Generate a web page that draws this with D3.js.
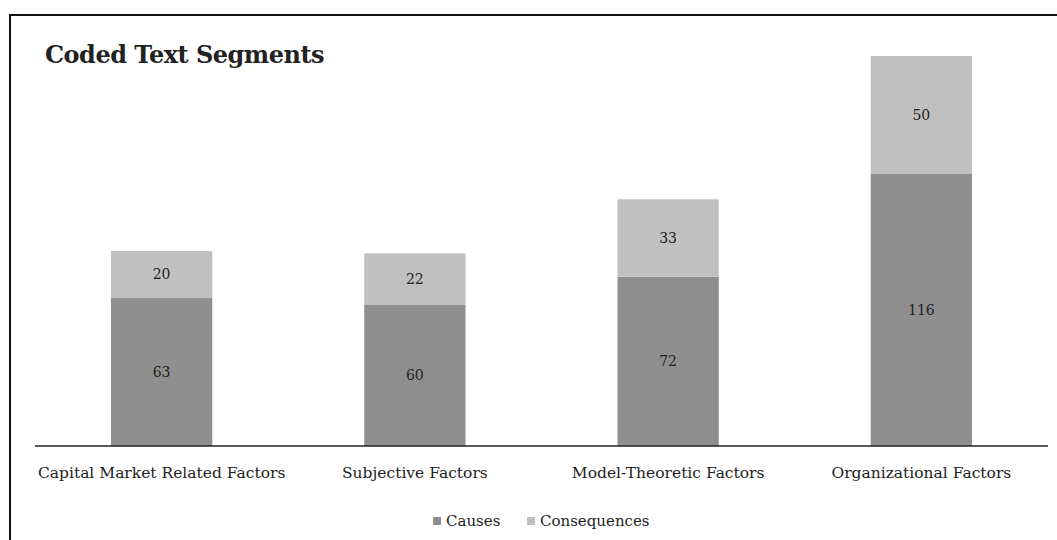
<!DOCTYPE html>
<html>
<head>
<meta charset="utf-8">
<script src="https://cdn.jsdelivr.net/npm/d3@7"></script>
<style>
  html, body { margin: 0; padding: 0; background: #fff; }
  svg { display: block; }
  text { font-family: "DejaVu Serif", "Liberation Serif", serif; fill: #222; }
</style>
</head>
<body>
<svg id="chart" width="1057" height="540"></svg>
<script>
// Coded text segments per factor group, split into causes and consequences
const categories = [
  "Capital Market Related Factors",
  "Subjective Factors",
  "Model-Theoretic Factors",
  "Organizational Factors"
];
const causes = [63, 60, 72, 116];
const consequences = [20, 22, 33, 50];
const seriesNames = ["Causes", "Consequences"];
const seriesColors = ["#8f8f8f", "#c0c0c0"];

const svg = d3.select("#chart");
const W = 1057, H = 540;

// outer frame (open to the right and bottom edges)
svg.append("rect")
  .attr("x", 10).attr("y", 15)
  .attr("width", W + 20).attr("height", H + 20)
  .attr("fill", "none").attr("stroke", "#111").attr("stroke-width", 2);

const plot = { left: 35, right: 1048, top: 56, bottom: 446 };

const rows = categories.map((c, i) => ({ cat: c, Causes: causes[i], Consequences: consequences[i] }));
const stacked = d3.stack().keys(seriesNames)(rows);

const x = d3.scaleBand()
  .domain(categories)
  .range([plot.left, plot.right])
  .paddingInner(0.6)
  .paddingOuter(0.3);

const yMax = d3.max(rows, d => d.Causes + d.Consequences);
const y = d3.scaleLinear().domain([0, yMax]).range([plot.bottom, plot.top]);

// stacked bars
const layers = svg.append("g").selectAll("g")
  .data(stacked).join("g")
  .attr("fill", (d, i) => seriesColors[i]);

layers.selectAll("rect")
  .data(d => d).join("rect")
  .attr("x", d => x(d.data.cat))
  .attr("width", x.bandwidth())
  .attr("y", d => y(d[1]))
  .attr("height", d => y(d[0]) - y(d[1]));

// value labels centred in each segment
layers.selectAll("text")
  .data(d => d).join("text")
  .attr("x", d => x(d.data.cat) + x.bandwidth() / 2)
  .attr("y", d => (y(d[0]) + y(d[1])) / 2)
  .attr("dy", "0.35em")
  .attr("text-anchor", "middle")
  .attr("font-size", 14)
  .text(d => d[1] - d[0]);

// category axis
const xAxis = svg.append("g")
  .attr("transform", `translate(0,${plot.bottom})`)
  .call(d3.axisBottom(x).tickSize(0).tickPadding(21));
xAxis.select(".domain").attr("stroke", "#222").attr("stroke-width", 1.5)
  .attr("d", `M${plot.left},0H${plot.right}`);
xAxis.selectAll(".tick text")
  .attr("font-size", 15.5)
  .attr("font-family", "\"DejaVu Serif\", serif")
  .attr("fill", "#222");

// title
svg.append("text")
  .attr("x", 45).attr("y", 63)
  .attr("font-size", 24)
  .attr("letter-spacing", -0.5)
  .attr("font-weight", "bold")
  .attr("fill", "#111")
  .text("Coded Text Segments");

// legend
const legend = svg.append("g").attr("transform", "translate(433,521)");
const legendX = [0, 94];
seriesNames.forEach((name, i) => {
  const g = legend.append("g").attr("transform", `translate(${legendX[i]},0)`);
  g.append("rect").attr("x", 0).attr("y", -4).attr("width", 8).attr("height", 8)
    .attr("fill", seriesColors[i]);
  g.append("text").attr("x", 13).attr("y", 0).attr("dy", "0.35em")
    .attr("font-size", 15).text(name);
});
</script>
</body>
</html>
